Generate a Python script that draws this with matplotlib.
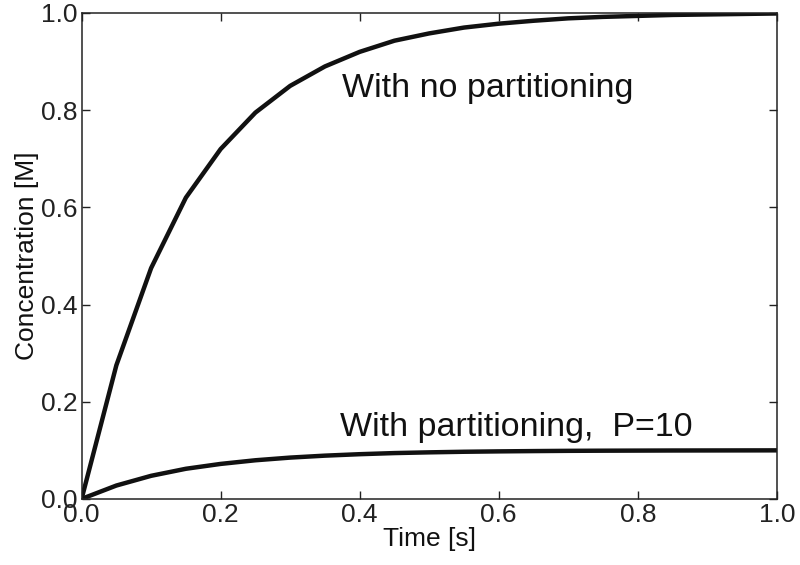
import matplotlib
matplotlib.use("Agg")
import matplotlib.pyplot as plt

time_s = [0.0, 0.05, 0.1, 0.15, 0.2, 0.25, 0.3, 0.35, 0.4, 0.45, 0.5,
          0.55, 0.6, 0.65, 0.7, 0.75, 0.8, 0.85, 0.9, 0.95, 1.0]
conc_no_part = [0.0, 0.275, 0.475, 0.62, 0.72, 0.795, 0.85, 0.89, 0.92, 0.943, 0.958,
                0.97, 0.978, 0.984, 0.989, 0.992, 0.994, 0.996, 0.997, 0.998, 0.999]
conc_part = [0.0, 0.0275, 0.0475, 0.062, 0.072, 0.0795, 0.085, 0.089, 0.092, 0.0943, 0.0958,
             0.097, 0.0978, 0.0984, 0.0989, 0.0992, 0.0994, 0.0996, 0.0997, 0.0998, 0.0999]
xticks = [0.0, 0.2, 0.4, 0.6, 0.8, 1.0]
yticks = [0.0, 0.2, 0.4, 0.6, 0.8, 1.0]

plt.rcParams['font.family'] = ['Liberation Sans', 'DejaVu Sans']

fig = plt.figure(figsize=(8, 5.65), dpi=100)
ax = fig.add_axes([0.102, 0.117, 0.869, 0.860])
ax.plot(time_s, conc_no_part, color='#111111', lw=3.2, solid_joinstyle='round')
ax.plot(time_s, conc_part, color='#111111', lw=3.2, solid_joinstyle='round')
ax.set_xlim(0, 1)
ax.set_ylim(0, 1)
ax.set_xticks(xticks)
ax.set_yticks(yticks)
ax.set_xticklabels([f"{v:.1f}" for v in xticks])
ax.set_yticklabels([f"{v:.1f}" for v in yticks])
ax.tick_params(direction='in', length=6, width=1, top=True, right=True,
               labelsize=19, colors='#222222', pad=3)
for s in ax.spines.values():
    s.set_linewidth(1.1)
    s.set_color('#222222')
ax.set_xlabel("Time [s]", fontsize=19, color='#111111', labelpad=0)
ax.set_ylabel("Concentration [M]", fontsize=19, color='#111111', labelpad=1)
ax.text(0.374, 0.827, "With no partitioning", fontsize=24.5, color='#111111')
ax.text(0.371, 0.13, "With partitioning,  P=10", fontsize=24.5, color='#111111')
fig.savefig("out.png", dpi=100)
